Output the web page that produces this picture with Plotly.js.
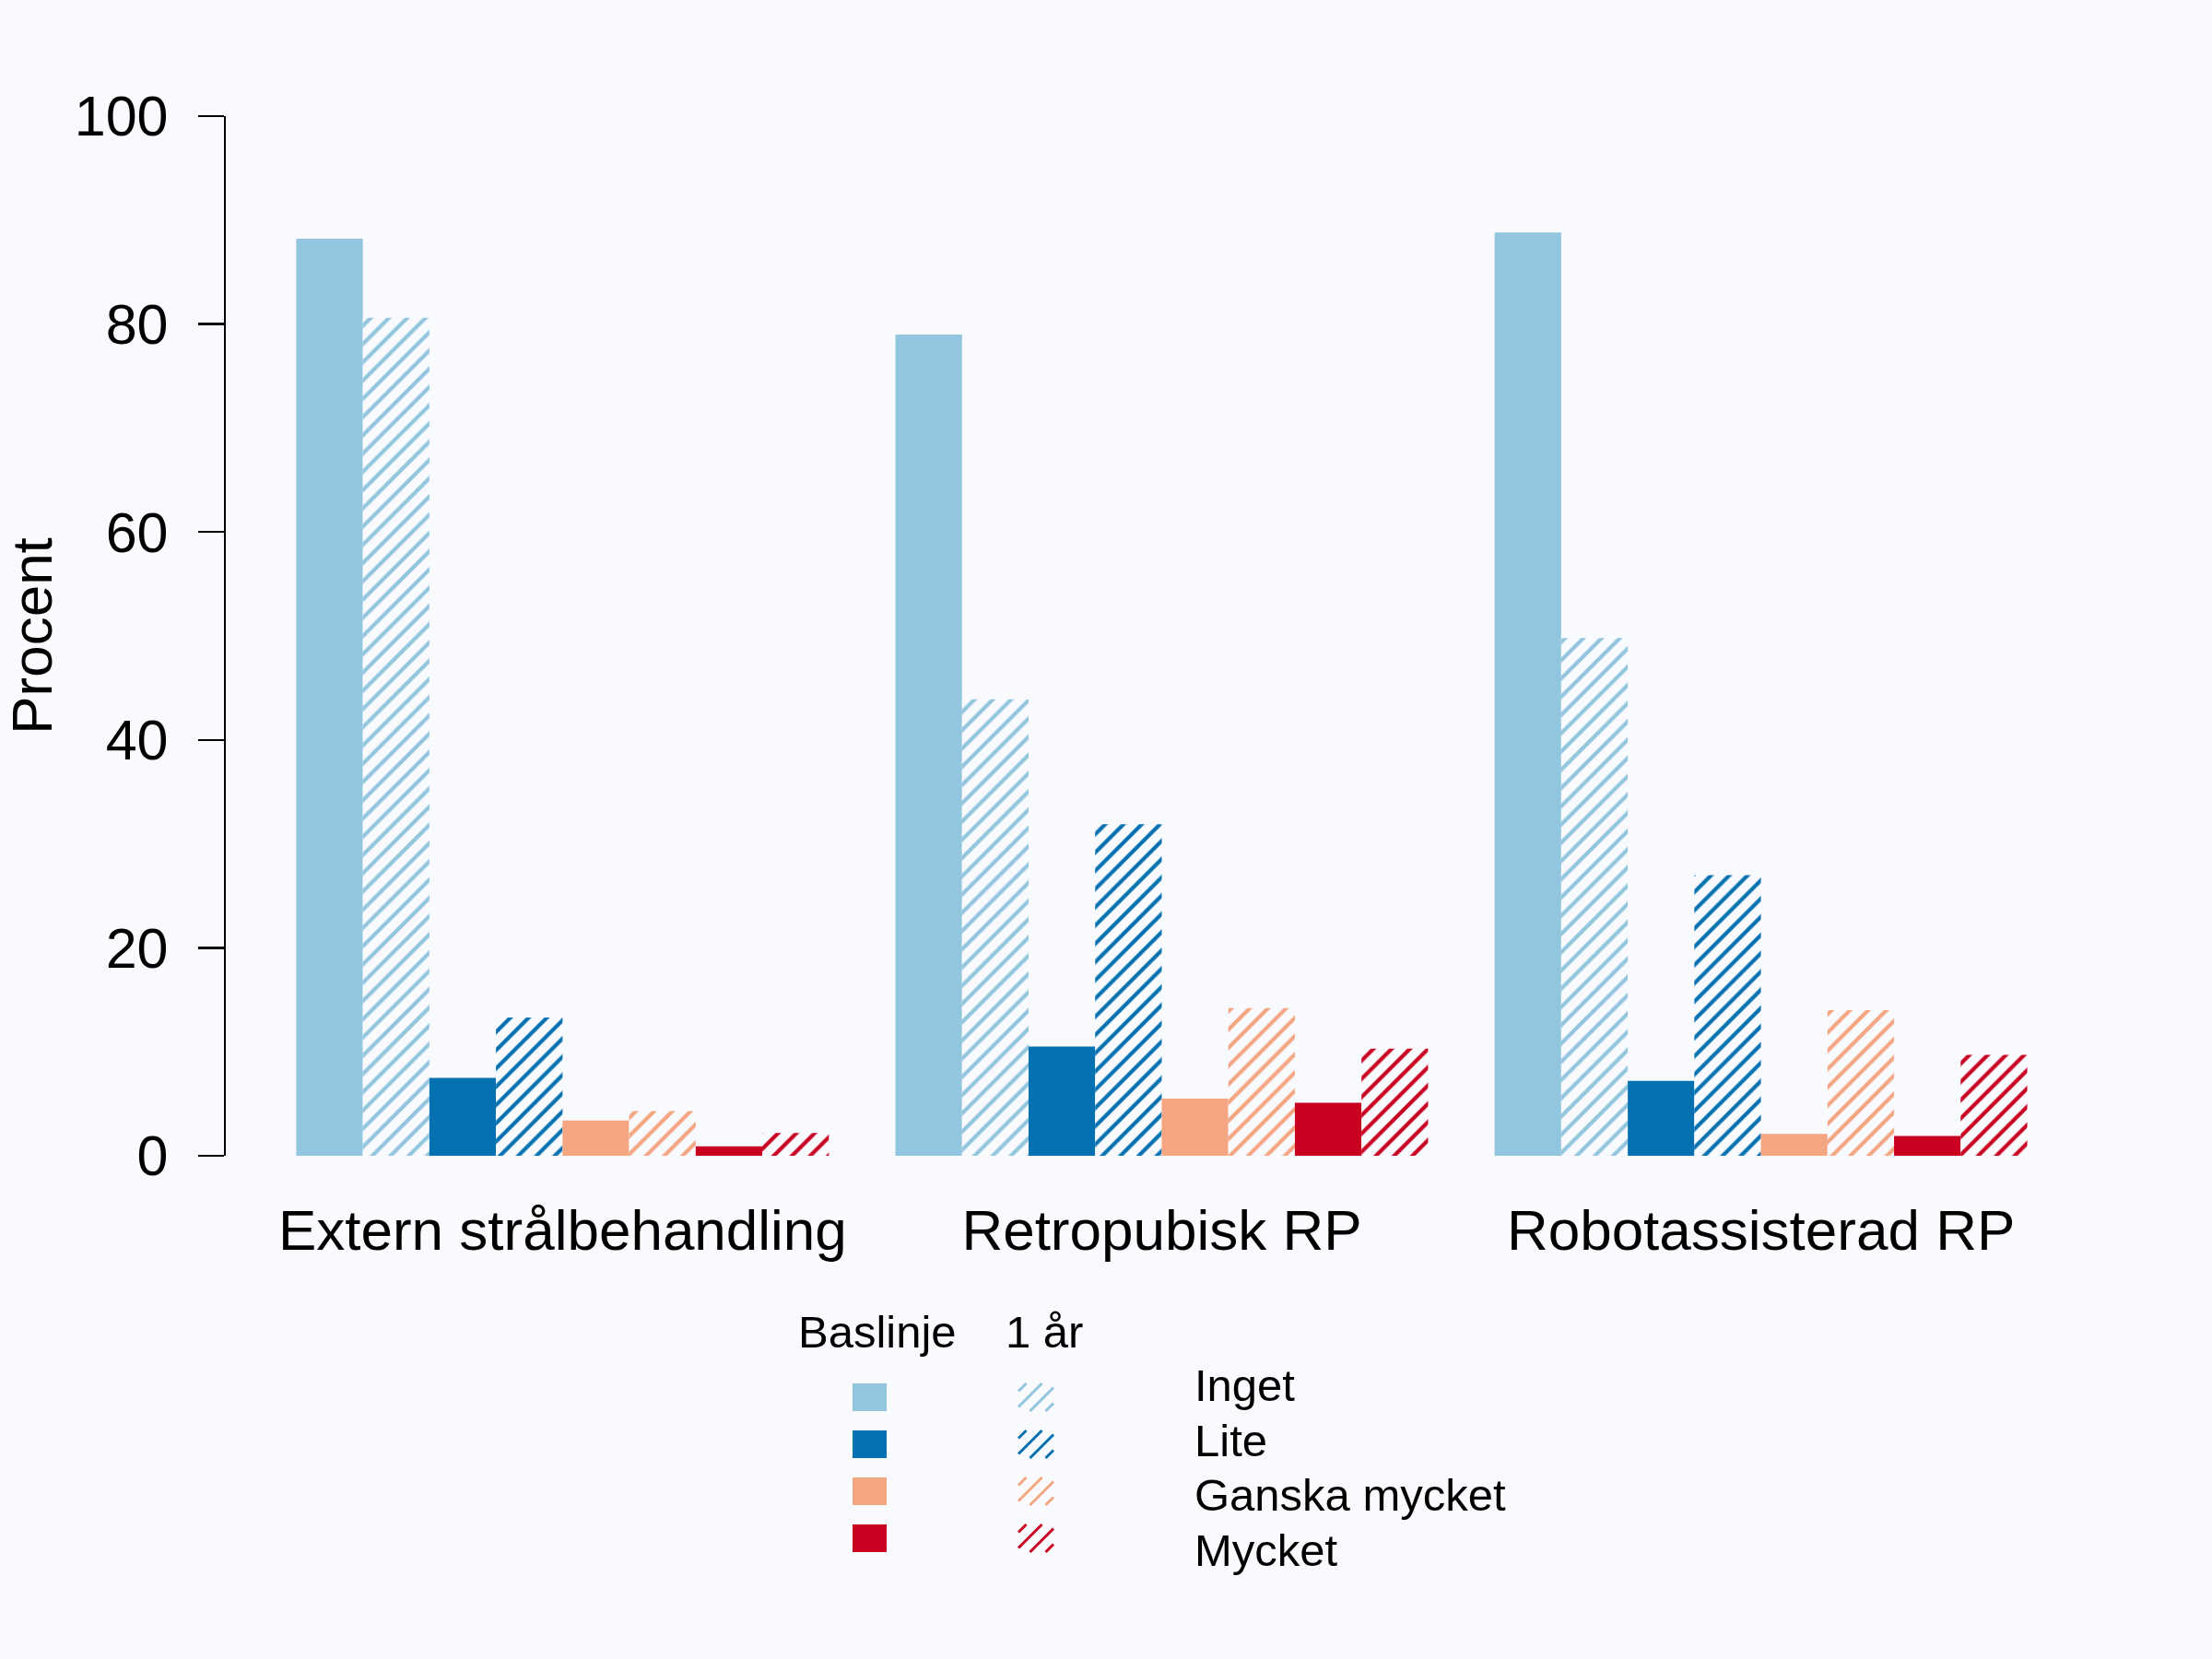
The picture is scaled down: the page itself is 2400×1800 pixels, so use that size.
<!DOCTYPE html>
<html>
<head>
<meta charset="utf-8">
<script src="https://cdn.plot.ly/plotly-3.0.1.min.js"></script>
<style>html,body{margin:0;padding:0;background:#F9FAFE;}</style>
</head>
<body>
<div id="chart" style="width:2400px;height:1800px;"></div>
<script>
// ---- data ----
const groups = ['Extern strålbehandling', 'Retropubisk RP', 'Robotassisterad RP'];
const levels = ['Inget', 'Lite', 'Ganska mycket', 'Mycket'];
const periods = ['Baslinje', '1 år'];
const ingetBas   = [88.2, 79.0, 88.8];
const inget1ar   = [80.6, 43.9, 49.8];
const liteBas    = [7.5, 10.5, 7.2];
const lite1ar    = [13.3, 31.9, 27.0];
const ganskaBas  = [3.4, 5.5, 2.1];
const ganska1ar  = [4.3, 14.2, 14.0];
const mycketBas  = [0.9, 5.1, 1.9];
const mycket1ar  = [2.2, 10.3, 9.7];
const yTicks = [0, 20, 40, 60, 80, 100];

const colors = ['#92C5DE', '#0571B0', '#F4A582', '#CA0020'];
const bg = '#F9FAFE';
const FONT = 'Liberation Sans, Arial, Helvetica, sans-serif';

const basSeries = [ingetBas, liteBas, ganskaBas, mycketBas];
const arSeries = [inget1ar, lite1ar, ganska1ar, mycket1ar];

const traces = [];
levels.forEach((lv, i) => {
  traces.push({
    type: 'bar', x: groups, y: basSeries[i], name: lv + ' – ' + periods[0],
    marker: {color: colors[i], line: {width: 0}},
    showlegend: false, hoverinfo: 'x+y+name'
  });
  traces.push({
    type: 'bar', x: groups, y: arSeries[i], name: lv + ' – ' + periods[1],
    marker: {color: bg, line: {width: 0},
      pattern: {shape: '/', fgcolor: colors[i], fgopacity: 1, bgcolor: bg, size: 14, solidity: 0.3, fillmode: 'overlay'}},
    showlegend: false, hoverinfo: 'x+y+name'
  });
});

// ---- plot geometry (pixels) ----
const L = 245, R = 100, T = 126, B = 546, W = 2400, H = 1800;
const pw = W - L - R, ph = H - T - B;
const px = X => (X - L) / pw;
const py = Y => (H - B - Y) / ph;

// ---- legend drawn as shapes + annotations ----
const shapes = [];
const annotations = [];
const rowTop = 1501, rowStep = 51, swH = 30;
const basX0 = 925, basX1 = 962, arX0 = 1105, arX1 = 1143;
levels.forEach((lv, i) => {
  const y0 = rowTop + i * rowStep, y1 = y0 + swH;
  shapes.push({type: 'rect', xref: 'paper', yref: 'paper',
    x0: px(basX0), x1: px(basX1), y0: py(y1), y1: py(y0),
    fillcolor: colors[i], line: {width: 0}});
  const w = arX1 - arX0, h = swH, n = 4, step = (w + h) / n;
  for (let k = 0; k < n; k++) {
    const c = arX0 + y0 + (k + 0.5) * step;
    const xa = Math.max(arX0, c - y1), xb = Math.min(arX1, c - y0);
    shapes.push({type: 'line', xref: 'paper', yref: 'paper',
      x0: px(xa), y0: py(c - xa), x1: px(xb), y1: py(c - xb),
      line: {color: colors[i], width: 3}});
  }
});
const labelY = [1503, 1563, 1622, 1682];
levels.forEach((lv, i) => {
  annotations.push({xref: 'paper', yref: 'paper', x: px(1294), y: py(labelY[i]),
    xanchor: 'left', yanchor: 'middle', text: lv, showarrow: false,
    font: {family: FONT, size: 49, color: '#000'}});
});
annotations.push({xref: 'paper', yref: 'paper', x: px(952), y: py(1445),
  xanchor: 'center', yanchor: 'middle', text: periods[0], showarrow: false,
  font: {family: FONT, size: 49, color: '#000'}});
annotations.push({xref: 'paper', yref: 'paper', x: px(1133), y: py(1445),
  xanchor: 'center', yanchor: 'middle', text: periods[1], showarrow: false,
  font: {family: FONT, size: 49, color: '#000'}});

const layout = {
  width: W, height: H,
  paper_bgcolor: bg, plot_bgcolor: bg,
  margin: {l: L, r: R, t: T, b: B, pad: 0},
  font: {family: FONT, color: '#000'},
  barmode: 'group', bargap: 1 / 9, bargroupgap: 0,
  showlegend: false,
  xaxis: {
    type: 'category', range: [-0.562, 2.599],
    showline: false, ticks: '', showgrid: false, zeroline: false,
    tickfont: {family: FONT, size: 62, color: '#000'},
    ticklabelstandoff: 39, automargin: false
  },
  yaxis: {
    range: [0, 100], tickvals: yTicks, ticktext: yTicks.map(String),
    showline: true, linecolor: '#000', linewidth: 2.3,
    ticks: 'outside', ticklen: 28, tickwidth: 2.3, tickcolor: '#000',
    showgrid: false, zeroline: false,
    tickfont: {family: FONT, size: 61, color: '#000'},
    ticklabelstandoff: 20, automargin: false,
    title: {text: 'Procent', font: {family: FONT, size: 62, color: '#000'}, standoff: 28}
  },
  shapes: shapes,
  annotations: annotations
};

Plotly.newPlot('chart', traces, layout, {staticPlot: true, displayModeBar: false});
</script>
</body>
</html>
